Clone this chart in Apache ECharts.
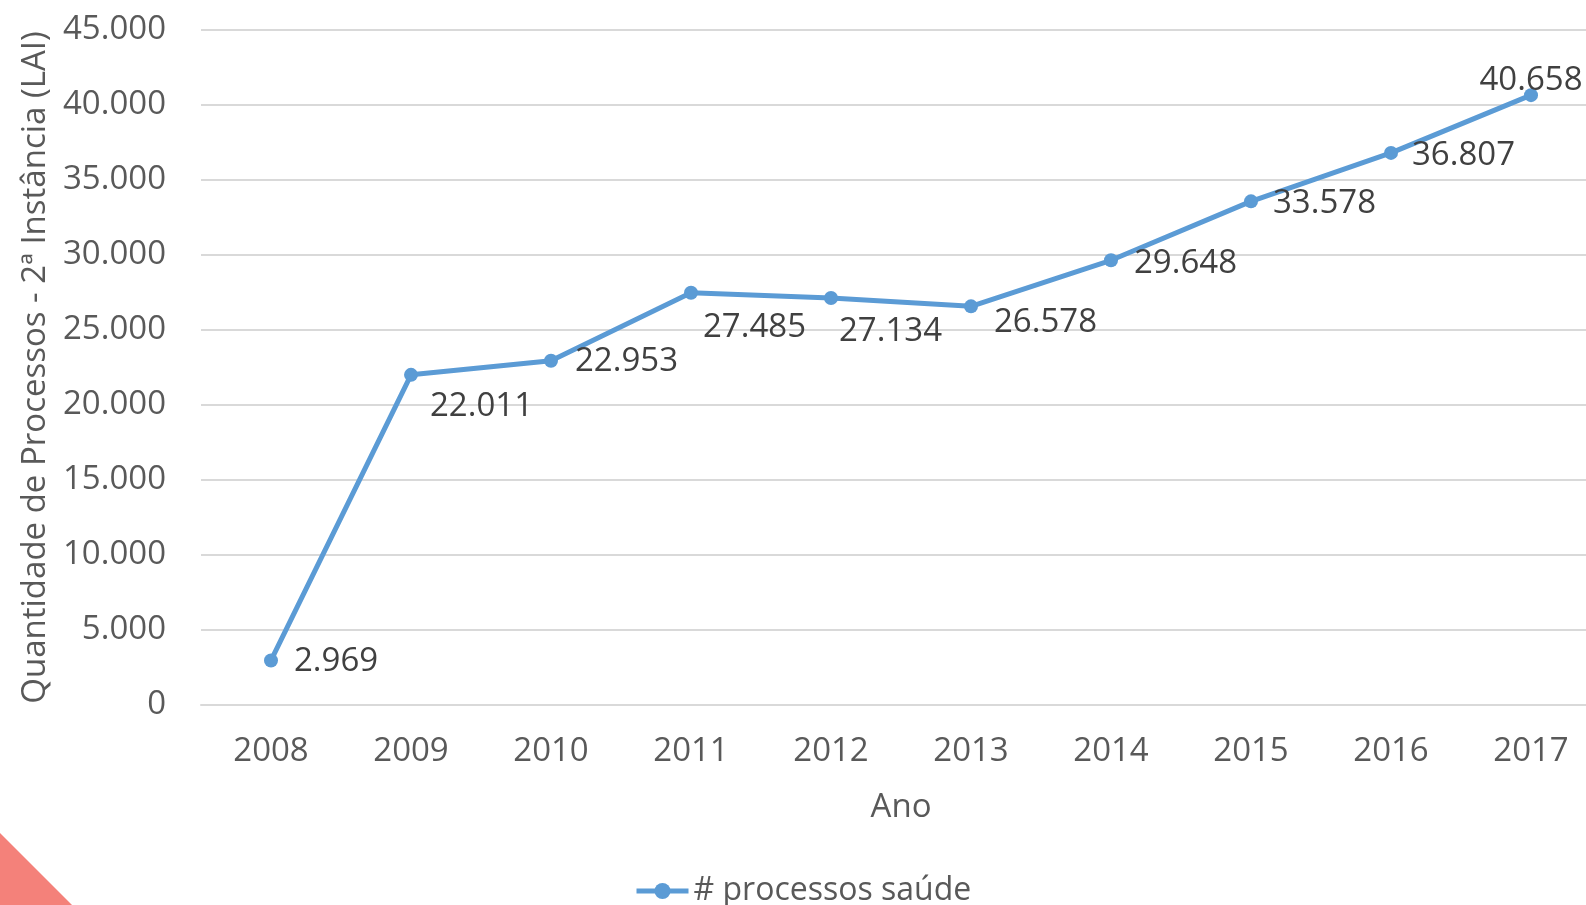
<!DOCTYPE html>
<html>
<head>
<meta charset="utf-8">
<script src="https://cdn.jsdelivr.net/npm/echarts@6/dist/echarts.min.js"></script>
<style>
  html, body { margin: 0; padding: 0; background: #fff; }
  #chart { width: 1586px; height: 905px; }
</style>
</head>
<body>
<div id="chart"></div>
<script>
// dados
const anos = ["2008", "2009", "2010", "2011", "2012", "2013", "2014", "2015", "2016", "2017"];
const processos = [2969, 22011, 22953, 27485, 27134, 26578, 29648, 33578, 36807, 40658];
// deslocamento de cada rótulo (em px, relativo ao ponto)
const rotuloDesloc = [[11, 1], [7, 32], [12, 1], [0, 35], [-4, 34], [11, 16], [11, 3], [10, 2], [9, 3], [0, 14]];

const fonte = "'Open Sans', 'DejaVu Sans', sans-serif";

function fmt(v) {
  return String(v).replace(/\B(?=(\d{3})+(?!\d))/g, ".");
}

const dados = processos.map((v, i) => {
  const ultimo = i === processos.length - 1;
  return {
    value: v,
    label: { position: ultimo ? "top" : "right", offset: rotuloDesloc[i] }
  };
});

const chart = echarts.init(document.getElementById("chart"));
const option = {
  backgroundColor: "#fff",
  textStyle: { fontFamily: fonte },
  grid: { left: 201, width: 1400, top: 30, bottom: 200, outerBoundsMode: "none" },
  legend: {
    bottom: -7,
    left: 629,
    itemWidth: 52,
    itemHeight: 20,
    itemGap: 4,
    lineStyle: { width: 5 },
    textStyle: { fontSize: 32, color: "#595959", fontFamily: fonte },
    data: ["# processos saúde"]
  },
  graphic: [
    {
      type: "polygon",
      shape: { points: [[0, 833], [0, 905], [72, 905]] },
      style: { fill: "#F4817A" }
    }
  ],
  xAxis: {
    type: "category",
    data: anos,
    name: "Ano",
    nameLocation: "middle",
    nameGap: 86,
    nameTextStyle: { fontSize: 33, color: "#595959" },
    axisLine: { lineStyle: { color: "#d9d9d9", width: 2 } },
    axisTick: { show: false },
    axisLabel: { fontSize: 33, color: "#595959", margin: 30 }
  },
  yAxis: {
    type: "value",
    min: 0,
    max: 45000,
    interval: 5000,
    name: "Quantidade de Processos - 2ª Instância (LAI)",
    nameLocation: "middle",
    nameGap: 149,
    nameTextStyle: { fontSize: 33, color: "#595959" },
    axisLine: { show: false },
    axisTick: { show: false },
    axisLabel: { fontSize: 33, color: "#595959", margin: 35, formatter: v => fmt(v) },
    splitLine: { lineStyle: { color: "#d9d9d9", width: 2 } }
  },
  series: [
    {
      name: "# processos saúde",
      type: "line",
      data: dados,
      symbol: "circle",
      symbolSize: 14,
      lineStyle: { color: "#5B9BD5", width: 5 },
      itemStyle: { color: "#5B9BD5" },
      label: {
        show: true,
        fontSize: 33,
        color: "#404040",
        formatter: p => fmt(p.value)
      }
    }
  ]
};
chart.setOption(option);
</script>
</body>
</html>
